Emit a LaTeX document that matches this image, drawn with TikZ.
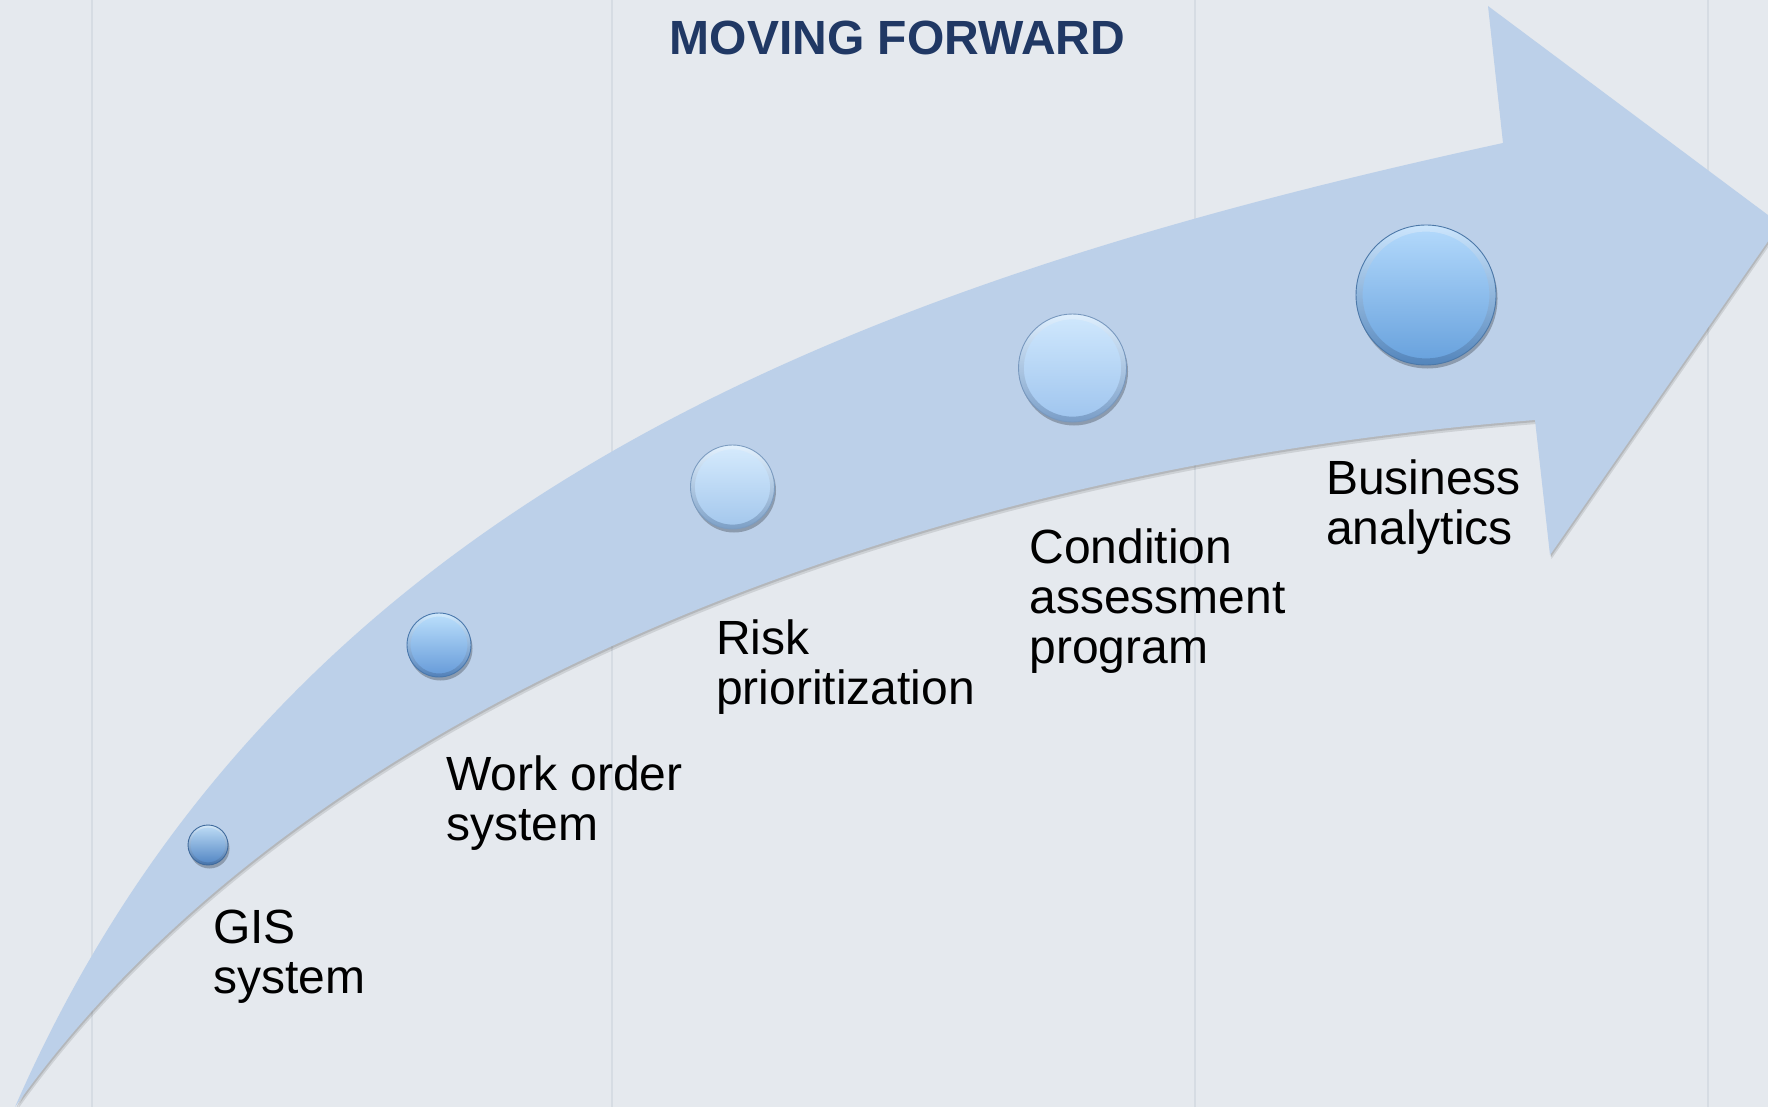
\documentclass[tikz,border=0pt]{standalone}
\usepackage{fontspec}
\setmainfont{Liberation Sans}
\usetikzlibrary{shadows}
\definecolor{bg}{HTML}{E5E9EE}
\definecolor{vline}{HTML}{D6DCE3}
\definecolor{arrowfill}{HTML}{BCD0E9}
\definecolor{titleblue}{HTML}{203864}
\definecolor{gisT}{HTML}{BFDDF6}
\definecolor{gisB}{HTML}{4F83C2}
\definecolor{gisE}{HTML}{3F6A9C}
\definecolor{woT}{HTML}{BCE0FC}
\definecolor{woB}{HTML}{6499D8}
\definecolor{woE}{HTML}{4A78AC}
\definecolor{riT}{HTML}{D6EBFD}
\definecolor{riB}{HTML}{A2C6EC}
\definecolor{riE}{HTML}{7C9CC0}
\definecolor{coT}{HTML}{D0E8FD}
\definecolor{coB}{HTML}{9EC4EE}
\definecolor{coE}{HTML}{7898BE}
\definecolor{buT}{HTML}{B4DAFC}
\definecolor{buB}{HTML}{66A0DC}
\definecolor{buE}{HTML}{4C78A8}
\definecolor{rimdark}{HTML}{2E4E78}
\tikzset{
  gridline/.style={draw=vline, line width=1.2pt},
  ball/.style={circle, inner sep=0pt, outer sep=0pt, line width=0.9pt, minimum size=2*#1,
    drop shadow={shadow xshift=1.5pt, shadow yshift=-3.5pt, opacity=0.25, fill=black},
    path picture={
      \shade[top color=white, bottom color=rimdark, opacity=0.32, even odd rule]
        (path picture bounding box.center) circle[radius=#1]
        (path picture bounding box.center) circle[radius=#1-0.08*#1-1pt];
    }},
  label/.style={anchor=north west, inner sep=0pt, outer sep=0pt, align=left,
    font=\fontsize{48}{50}\selectfont, text=black},
  titletext/.style={anchor=base, inner sep=0pt, text=titleblue,
    font=\bfseries\fontsize{48}{52}\selectfont}
}
\newcommand{\fl}{\rule{0pt}{34pt}}
\begin{document}
\begin{tikzpicture}[x=1pt,y=-1pt]
\useasboundingbox (0,0) rectangle (1768,1107);
\clip (0,0) rectangle (1768,1107);
\fill[bg] (0,0) rectangle (1768,1107);
% background grid lines
\draw[gridline] (92,0) -- (92,1107);
\draw[gridline] (612,0) -- (612,1107);
\draw[gridline] (1195,0) -- (1195,1107);
\draw[gridline] (1708,0) -- (1708,1107);
% arrow shadow
\begin{scope}[shift={(1.5,4)}]
\fill[black, opacity=0.10] (15,1107) .. controls (280,500) and (850,285) .. (1503,143) -- (1488,6) -- (1780,224) -- (1550,555) -- (1535,420) .. controls (900,470) and (300,706) .. cycle;
\end{scope}
\begin{scope}[shift={(0.8,2)}]
\fill[black, opacity=0.12] (15,1107) .. controls (280,500) and (850,285) .. (1503,143) -- (1488,6) -- (1780,224) -- (1550,555) -- (1535,420) .. controls (900,470) and (300,706) .. cycle;
\end{scope}
% arrow
\fill[arrowfill] (15,1107) .. controls (280,500) and (850,285) .. (1503,143) -- (1488,6) -- (1780,224) -- (1550,555) -- (1535,420) .. controls (900,470) and (300,706) .. cycle;
% title
\node[titletext] (title) at (897.5,55) {MOVING FORWARD};
% balls
\node[ball=20pt, top color=gisT, bottom color=gisB, draw=gisE] (gis) at (208,845) {};
\node[ball=32pt, top color=woT, bottom color=woB, draw=woE] (wo) at (439,645) {};
\node[ball=42pt, top color=riT, bottom color=riB, draw=riE] (ri) at (732.5,487) {};
\node[ball=54pt, top color=coT, bottom color=coB, draw=coE] (co) at (1072.5,368) {};
\node[ball=70pt, top color=buT, bottom color=buB, draw=buE] (bu) at (1426,295) {};
% labels
\node[label] (lgis) at (213,909.5) {\fl GIS\\system};
\node[label] (lwo) at (446,756) {\fl Work order\\system};
\node[label] (lri) at (716,620) {\fl Risk\\prioritization};
\node[label] (lco) at (1029.5,529) {\fl Condition\\assessment\\program};
\node[label] (lbu) at (1326,460) {\fl Business\\analytics};
\end{tikzpicture}
\end{document}
